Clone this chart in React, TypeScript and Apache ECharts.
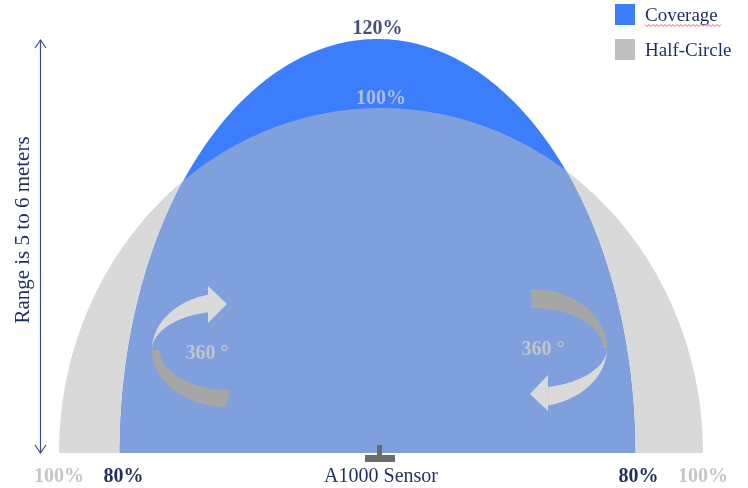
import React, { useEffect, useRef } from "react";
import * as echarts from "echarts";

// ---- data ----
const shapeNames = ["Half-Circle", "Coverage"];
const shapeCenters = [0, -1.1]; // % offset of each shape's centre from the sensor
const shapeHalfWidths = [100, 80]; // % of range, to each side of the sensor
const shapeHeights = [100, 120]; // % of range, straight ahead
const shapeTopLabels = ["100%", "120%"];
const edgeTickValues = [-100, -80, 0, 80, 100];
const edgeTickLabels = ["100%", "80%", "A1000 Sensor", "80%", "100%"];
const edgeTickStyles = ["g", "b", "s", "b", "g"];
const rotationLabel = "360 °";
const rangeText = "Range is 5 to 6 meters";

const NAVY = "#1F2F5F";
const BLUE = "#3B7DFB";
const GRAY = "#D9D9D9";
const OVERLAP = "#7FA0DC";
const SERIF = "'Liberation Serif','Times New Roman',serif";

function ellipsePts(api: any, c: number, w: number, h: number, n = 240) {
  const pts: number[][] = [];
  for (let i = 0; i <= n; i++) {
    const t = (Math.PI * i) / n;
    pts.push(api.coord([c - w * Math.cos(t), h * Math.sin(t)]));
  }
  return pts;
}

function ribbon(cx: number, cy: number, rx: number, ryo: number, ryi: number, a0: number, a1: number, rxi = rx, cxi = cx) {
  const n = 60;
  const pts: number[][] = [];
  for (let i = 0; i <= n; i++) {
    const t = ((a0 + ((a1 - a0) * i) / n) * Math.PI) / 180;
    pts.push([cx + rx * Math.cos(t), cy - ryo * Math.sin(t)]);
  }
  for (let i = n; i >= 0; i--) {
    const t = ((a0 + ((a1 - a0) * i) / n) * Math.PI) / 180;
    pts.push([cxi + rxi * Math.cos(t), cy - ryi * Math.sin(t)]);
  }
  return pts;
}

export default function App() {
  const ref = useRef<HTMLDivElement>(null);
  useEffect(() => {
    if (!ref.current) return;
    const chart = echarts.init(ref.current, undefined, { renderer: "svg" });

    const zig: number[][] = [];
    for (let x = 645; x <= 722; x += 2) zig.push([x, ((x - 645) / 2) % 2 === 0 ? 24.5 : 26.5]);

    const LIGHT = "#DADADA";
    const DARK = "#A6A6A6";

    const option: any = {
      animation: false,
      grid: { left: 59, right: 45, top: 39, bottom: 35 },
      xAxis: {
        type: "value",
        min: -100,
        max: 100,
        interval: 20,
        splitLine: { show: false },
        axisLine: { show: false },
        axisTick: { show: false },
        axisLabel: {
          show: true,
          margin: 12,
          showMinLabel: true,
          showMaxLabel: true,
          formatter: (v: number) => {
            const i = edgeTickValues.indexOf(Math.round(v));
            if (i < 0) return "";
            return `{${edgeTickStyles[i]}|${edgeTickLabels[i]}}`;
          },
          rich: {
            g: { color: "#C6C6C6", fontWeight: "bold", fontSize: 20, fontFamily: SERIF },
            b: { color: NAVY, fontWeight: "bold", fontSize: 20, fontFamily: SERIF },
            s: { color: NAVY, fontWeight: "normal", fontSize: 20, fontFamily: SERIF },
          },
        },
      },
      yAxis: {
        type: "value",
        min: 0,
        max: 120,
        interval: 20,
        show: false,
      },
      legend: {
        orient: "vertical",
        left: 615,
        top: 4,
        padding: 0,
        itemWidth: 20,
        itemHeight: 21,
        itemGap: 14,
        icon: "rect",
        textStyle: { fontSize: 19, fontFamily: SERIF, color: NAVY, padding: [0, 0, 0, 5] },
        data: [
          { name: "Coverage", itemStyle: { color: BLUE } },
          { name: "Half-Circle", itemStyle: { color: "#BFBFBF" } },
        ],
      },
      series: [
        {
          name: shapeNames[0],
          type: "custom",
          itemStyle: { color: GRAY },
          encode: { x: 0, y: 1 },
          data: [[shapeCenters[0], shapeHeights[0], shapeHalfWidths[0]]],
          renderItem: (params: any, api: any) => ({
            type: "polygon",
            shape: { points: ellipsePts(api, api.value(0), api.value(2), api.value(1)) },
            style: { fill: GRAY },
          }),
          z: 2,
        },
        {
          name: shapeNames[1],
          type: "custom",
          itemStyle: { color: BLUE },
          encode: { x: 0, y: 1 },
          data: [[shapeCenters[1], shapeHeights[1], shapeHalfWidths[1]]],
          renderItem: (params: any, api: any) => ({
            type: "polygon",
            shape: { points: ellipsePts(api, api.value(0), api.value(2), api.value(1)) },
            style: { fill: BLUE },
          }),
          z: 3,
        },
        {
          name: "overlap",
          type: "custom",
          encode: { x: 0, y: 1 },
          data: [[shapeCenters[1], shapeHeights[1]]],
          renderItem: (params: any, api: any) => {
            const cc = shapeCenters[1], cw = shapeHalfWidths[1], ch = shapeHeights[1];
            const gc = shapeCenters[0], gw = shapeHalfWidths[0], gh = shapeHeights[0];
            const pts: number[][] = [];
            const n = 300;
            for (let i = 0; i <= n; i++) {
              const t = (Math.PI * i) / n;
              const x = cc - cw * Math.cos(t);
              const hb = ch * Math.sin(t);
              const dx = (x - gc) / gw;
              const hg = gh * Math.sqrt(Math.max(0, 1 - dx * dx));
              pts.push(api.coord([x, Math.min(hb, hg)]));
            }
            return { type: "polygon", shape: { points: pts }, style: { fill: OVERLAP } };
          },
          z: 4,
        },
        {
          name: "tops",
          type: "scatter",
          symbolSize: 0,
          z: 5,
          data: [
            {
              value: [shapeCenters[1], shapeHeights[1]],
              label: { show: true, position: "top", distance: 2, formatter: shapeTopLabels[1], color: "#142350", fontWeight: "bold", fontSize: 20, fontFamily: SERIF },
            },
            {
              value: [shapeCenters[0], shapeHeights[0]],
              label: { show: true, position: "top", distance: 1, formatter: shapeTopLabels[0], color: "#C8CCD8", fontWeight: "bold", fontSize: 20, fontFamily: SERIF },
            },
          ],
        },
      ],
      graphic: [
        // range arrow
        { type: "line", z: 100, shape: { x1: 40.5, y1: 40, x2: 40.5, y2: 453 }, style: { stroke: "#3D4C7D", lineWidth: 1.2 } },
        { type: "polyline", z: 100, shape: { points: [[35, 48], [40.5, 40], [46, 48]] }, style: { stroke: "#3D4C7D", lineWidth: 1.2, fill: null } },
        { type: "polyline", z: 100, shape: { points: [[35, 445], [40.5, 453], [46, 445]] }, style: { stroke: "#3D4C7D", lineWidth: 1.2, fill: null } },
        {
          type: "text", z: 100, x: 22, y: 230, rotation: Math.PI / 2,
          style: { text: rangeText, fill: NAVY, font: `21px ${SERIF}`, align: "center", verticalAlign: "middle" },
        },
        // left rotation ribbon
        { type: "polygon", z: 100, shape: { points: ribbon(226, 350, 74, 57, 39, 104, 182) }, style: { fill: LIGHT } },
        { type: "polygon", z: 100, shape: { points: ribbon(226, 350, 74, 57, 40, 180, 270, 70, 230) }, style: { fill: DARK } },
        { type: "polygon", z: 100, shape: { points: [[208, 286], [227, 304], [208, 323]] }, style: { fill: LIGHT } },
        {
          type: "text", z: 100, x: 207, y: 352,
          style: { text: rotationLabel, fill: "#C0C4D2", font: `bold 20px ${SERIF}`, align: "center", verticalAlign: "middle" },
        },
        // right rotation ribbon
        { type: "polygon", z: 100, shape: { points: ribbon(531, 348, 76, 59, 40, 90, 0, 72, 531) }, style: { fill: DARK } },
        { type: "polygon", z: 100, shape: { points: ribbon(531, 348, 76, 59, 40, 2, -77) }, style: { fill: LIGHT } },
        { type: "polygon", z: 100, shape: { points: [[548, 375], [530, 394], [548, 411]] }, style: { fill: LIGHT } },
        {
          type: "text", z: 100, x: 543, y: 348,
          style: { text: rotationLabel, fill: "#C0C4D2", font: `bold 20px ${SERIF}`, align: "center", verticalAlign: "middle" },
        },
        // sensor
        { type: "rect", z: 100, shape: { x: 377, y: 445, width: 5, height: 11 }, style: { fill: "#6B6B6B" } },
        { type: "rect", z: 100, shape: { x: 365, y: 455, width: 30, height: 7 }, style: { fill: "#6B6B6B" } },
        // spell-check squiggle under "Coverage"
        { type: "polyline", z: 100, shape: { points: zig }, style: { stroke: "#E04040", lineWidth: 0.8, fill: null } },
      ],
    };
    chart.setOption(option);
    return () => chart.dispose();
  }, []);
  return <div ref={ref} style={{ position: "fixed", left: 0, top: 0, width: 748, height: 488 }} />;
}
